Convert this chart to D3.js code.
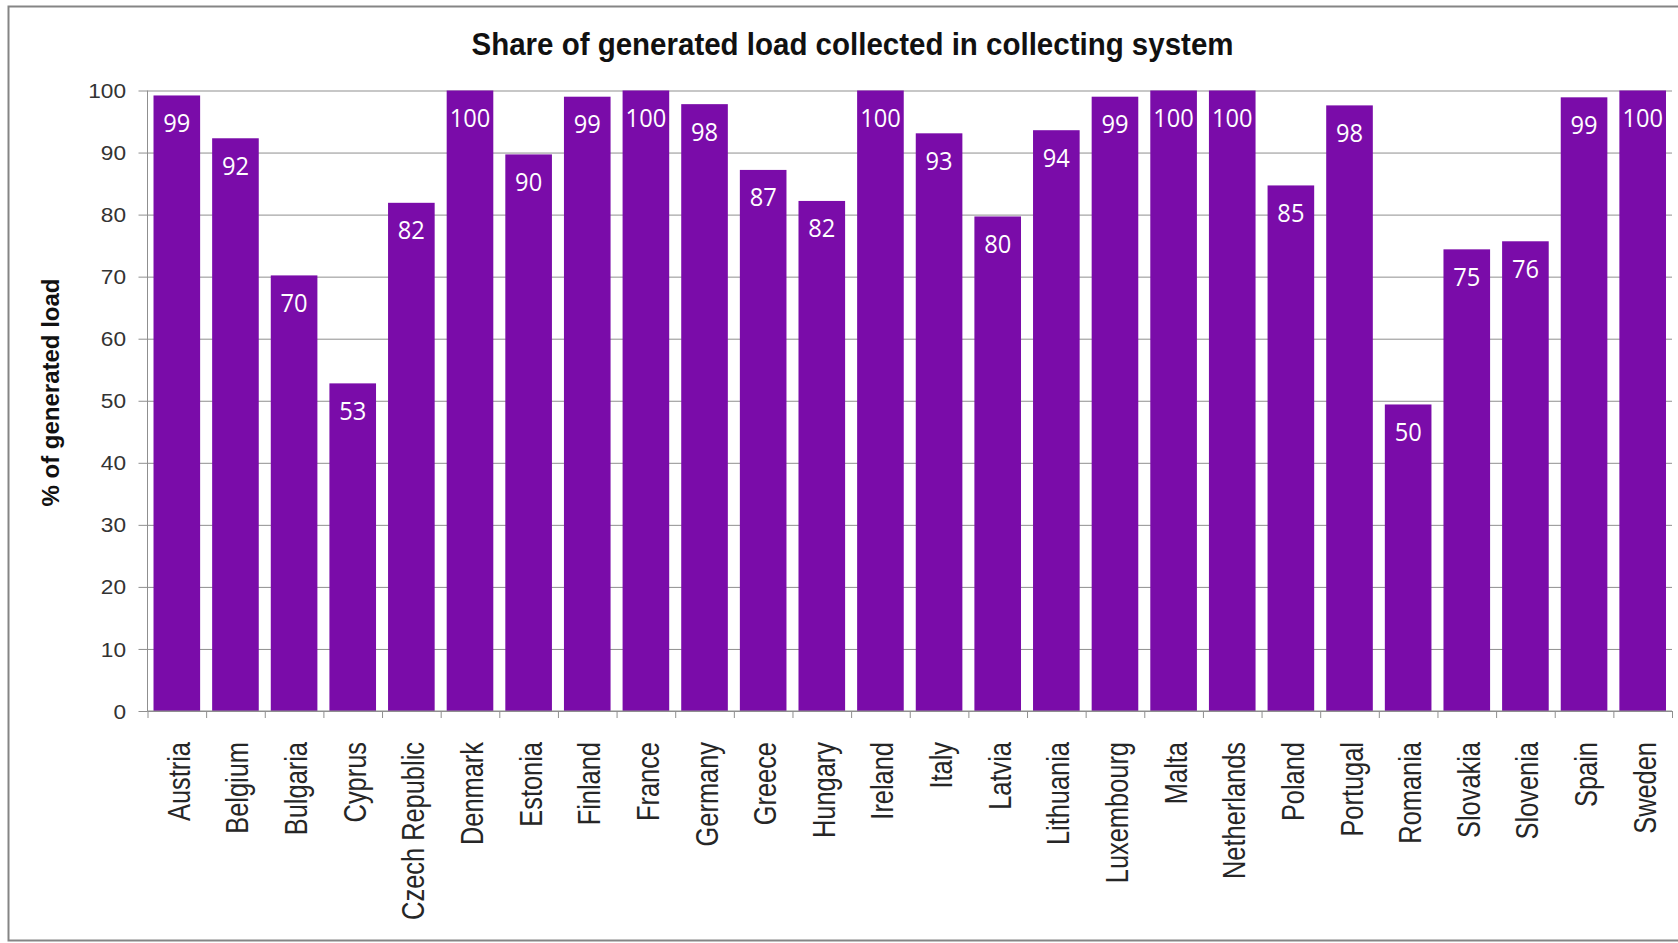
<!DOCTYPE html>
<html>
<head>
<meta charset="utf-8">
<script src="https://cdn.jsdelivr.net/npm/d3@7"></script>
<style>
  html, body { margin: 0; padding: 0; background: #ffffff; }
  svg { display: block; }
</style>
</head>
<body>
<svg id="chart" width="1678" height="943"></svg>
<script>
const categories = ["Austria","Belgium","Bulgaria","Cyprus","Czech Republic","Denmark","Estonia","Finland","France","Germany","Greece","Hungary","Ireland","Italy","Latvia","Lithuania","Luxembourg","Malta","Netherlands","Poland","Portugal","Romania","Slovakia","Slovenia","Spain","Sweden"];
const values = [99.2, 92.3, 70.2, 52.8, 81.9, 100, 89.7, 99.0, 100, 97.8, 87.2, 82.2, 100, 93.1, 79.7, 93.6, 99.0, 100, 100, 84.7, 97.6, 49.4, 74.4, 75.7, 98.9, 100];
const valueLabels = ["99","92","70","53","82","100","90","99","100","98","87","82","100","93","80","94","99","100","100","85","98","50","75","76","99","100"];
const yTicks = [0,10,20,30,40,50,60,70,80,90,100];
const titleText = "Share of generated load collected in collecting system";
const yAxisTitle = "% of generated load";

const svg = d3.select("#chart");
const W = 1678, H = 943;
const plotL = 147.5, plotR = 1672, plotT = 90.5, plotB = 711;
const barColor = "#7a0ca9";
const gridColor = "#8f8f8f";
const sans = "'Liberation Sans', Arial, sans-serif";

// frame
svg.append("rect")
  .attr("x", 8.5).attr("y", 6.5)
  .attr("width", W + 20).attr("height", 934)
  .attr("fill", "#ffffff")
  .attr("stroke", "#858585").attr("stroke-width", 2);

const x = d3.scaleBand().domain(categories).range([plotL, plotR]).paddingInner(0.205).paddingOuter(0.1025);
const y = d3.scaleLinear().domain([0, 100]).range([plotB, plotT]);
const boundary = d3.scaleLinear().domain([0, categories.length]).range([plotL, plotR]);

// gridlines
const grid = svg.append("g")
  .attr("transform", `translate(${plotL},0)`)
  .call(d3.axisLeft(y).tickValues(yTicks).tickSize(-(plotR - plotL)).tickFormat(""));
grid.select(".domain").remove();
grid.selectAll("line").attr("stroke", gridColor).attr("stroke-width", 1);

// bars
svg.append("g").selectAll("rect")
  .data(categories)
  .join("rect")
  .attr("x", d => x(d))
  .attr("width", x.bandwidth())
  .attr("y", (d, i) => y(values[i]))
  .attr("height", (d, i) => y(0) - y(values[i]))
  .attr("fill", barColor);

// value labels
svg.append("g").selectAll("text")
  .data(categories)
  .join("text")
  .attr("transform", (d, i) => `translate(${x(d) + x.bandwidth() / 2},${y(values[i]) + 36.5}) scale(0.91,1)`)
  .attr("text-anchor", "middle")
  .attr("font-family", "'Open Sans', 'Noto Sans', sans-serif")
  .attr("font-size", 26)
  .attr("fill", "#ffffff")
  .text((d, i) => valueLabels[i]);

// y axis
const yAxis = svg.append("g")
  .attr("transform", `translate(${plotL},0)`)
  .call(d3.axisLeft(y).tickValues(yTicks).tickSize(9).tickFormat(""));
yAxis.select(".domain").attr("stroke", gridColor).attr("d", `M0,${plotB}V${plotT}`);
yAxis.selectAll("line").attr("stroke", gridColor);

svg.append("g").selectAll("text")
  .data(yTicks)
  .join("text")
  .attr("transform", d => `translate(126,${y(d)}) scale(1.08,1)`)
  .attr("text-anchor", "end")
  .attr("dy", "0.36em")
  .attr("font-family", sans)
  .attr("font-size", 21)
  .attr("fill", "#333333")
  .text(d => d);

// x axis
const xAxis = svg.append("g")
  .attr("transform", `translate(0,${plotB})`)
  .call(d3.axisBottom(boundary).tickValues(d3.range(categories.length + 1)).tickSize(7).tickFormat(""));
xAxis.select(".domain").attr("stroke", gridColor).attr("d", `M${plotL},0H${plotR}`);
xAxis.selectAll("line").attr("stroke", gridColor);

svg.append("g").selectAll("text")
  .data(categories)
  .join("text")
  .attr("transform", d => `translate(${x(d) + x.bandwidth() / 2 + 13},742) rotate(-90) scale(0.82,1)`)
  .attr("text-anchor", "end")
  .attr("font-family", sans)
  .attr("font-size", 31)
  .attr("fill", "#262626")
  .text(d => d);

// title
svg.append("text")
  .attr("x", 852.5).attr("y", 55)
  .attr("text-anchor", "middle")
  .attr("font-family", sans)
  .attr("font-weight", "bold")
  .attr("font-size", 32)
  .attr("textLength", 762)
  .attr("lengthAdjust", "spacingAndGlyphs")
  .attr("fill", "#111111")
  .text(titleText);

// y axis title
svg.append("text")
  .attr("transform", "translate(59,392.5) rotate(-90)")
  .attr("text-anchor", "middle")
  .attr("font-family", sans)
  .attr("font-weight", "bold")
  .attr("font-size", 23.5)
  .attr("textLength", 228)
  .attr("lengthAdjust", "spacingAndGlyphs")
  .attr("fill", "#111111")
  .text(yAxisTitle);
</script>
</body>
</html>
